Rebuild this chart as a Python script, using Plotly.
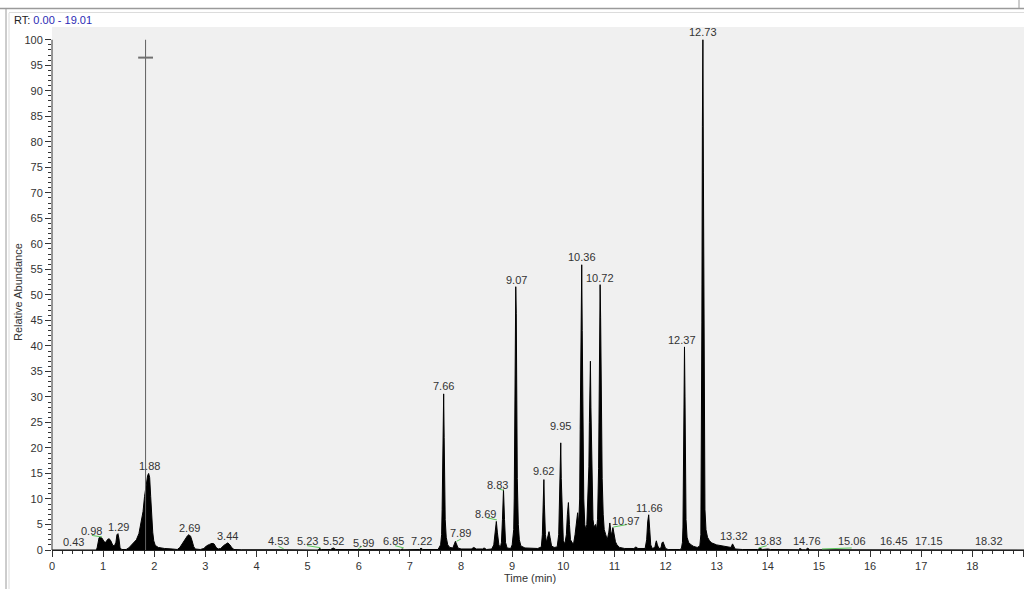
import plotly.graph_objects as go

# ---------------- data ----------------
rt_min = [
    0.00, 0.85, 0.88, 0.90, 0.92, 0.95, 0.98, 1.02, 1.05, 1.09, 1.12, 1.15, 1.19, 1.22, 1.25, 1.27,
    1.29, 1.31, 1.33, 1.36, 1.45, 1.50, 1.55, 1.60, 1.65, 1.70, 1.75, 1.78, 1.81, 1.84, 1.87, 1.89,
    1.91, 1.93, 1.95, 1.97, 1.99, 2.02, 2.08, 2.20, 2.35, 2.45, 2.50, 2.55, 2.60, 2.65, 2.68, 2.71,
    2.74, 2.77, 2.80, 2.90, 2.97, 3.02, 3.08, 3.13, 3.17, 3.21, 3.25, 3.30, 3.36, 3.41, 3.44, 3.48,
    3.52, 3.56, 3.70, 4.50, 5.20, 5.23, 5.27, 5.45, 5.50, 5.55, 6.82, 6.85, 6.88, 7.19, 7.22, 7.25,
    7.55, 7.60, 7.62, 7.63, 7.64, 7.65, 7.66, 7.67, 7.68, 7.69, 7.71, 7.74, 7.78, 7.84, 7.87, 7.89,
    7.91, 7.94, 8.00, 8.20, 8.25, 8.30, 8.42, 8.45, 8.50, 8.60, 8.64, 8.67, 8.69, 8.71, 8.74, 8.77,
    8.79, 8.81, 8.83, 8.85, 8.87, 8.90, 8.97, 9.00, 9.03, 9.04, 9.05, 9.06, 9.07, 9.08, 9.09, 9.10,
    9.12, 9.14, 9.17, 9.25, 9.50, 9.57, 9.59, 9.61, 9.62, 9.63, 9.65, 9.67, 9.70, 9.72, 9.74, 9.77,
    9.82, 9.88, 9.91, 9.93, 9.94, 9.95, 9.96, 9.98, 10.00, 10.03, 10.06, 10.08, 10.10, 10.12, 10.14, 10.17,
    10.20, 10.23, 10.26, 10.28, 10.30, 10.32, 10.33, 10.34, 10.35, 10.36, 10.37, 10.38, 10.40, 10.42, 10.44, 10.46,
    10.48, 10.50, 10.51, 10.52, 10.53, 10.54, 10.56, 10.58, 10.60, 10.63, 10.65, 10.67, 10.69, 10.70, 10.71, 10.72,
    10.73, 10.74, 10.76, 10.78, 10.80, 10.83, 10.86, 10.89, 10.91, 10.93, 10.95, 10.97, 10.99, 11.02, 11.05, 11.10,
    11.20, 11.38, 11.42, 11.46, 11.60, 11.63, 11.65, 11.67, 11.69, 11.71, 11.74, 11.79, 11.81, 11.82, 11.84, 11.87,
    11.91, 11.93, 11.95, 11.97, 12.00, 12.05, 12.28, 12.31, 12.33, 12.34, 12.35, 12.36, 12.37, 12.38, 12.39, 12.40,
    12.42, 12.45, 12.50, 12.55, 12.62, 12.67, 12.69, 12.70, 12.71, 12.72, 12.73, 12.74, 12.75, 12.76, 12.77, 12.79,
    12.82, 12.86, 12.90, 13.00, 13.10, 13.20, 13.28, 13.31, 13.33, 13.36, 13.50, 13.80, 13.85, 13.90, 14.00, 14.05,
    14.60, 14.63, 14.67, 14.74, 14.78, 14.82, 19.01,
]
abundance = [
    0.0, 0.0, 0.3, 1.8, 2.4, 2.5, 2.3, 1.6, 1.5, 2.1, 2.2, 1.8, 0.9, 0.8, 1.5, 3.0,
    3.2, 2.2, 0.5, 0.1, 0.1, 0.4, 0.9, 1.3, 2.0, 3.2, 5.5, 7.5, 10.5, 13.0, 14.6, 15.0,
    14.2, 10.5, 6.5, 3.5, 1.8, 0.9, 0.5, 0.3, 0.2, 0.1, 0.5, 1.3, 2.1, 2.8, 3.0, 2.7,
    1.8, 0.7, 0.2, 0.1, 0.3, 0.8, 1.1, 1.3, 1.2, 0.5, 0.2, 0.3, 0.9, 1.3, 1.4, 1.0,
    0.4, 0.1, 0.05, 0.05, 0.0, 0.3, 0.1, 0.1, 0.4, 0.1, 0.05, 0.2, 0.05, 0.1, 0.4, 0.1,
    0.1, 1.0, 3.0, 8.0, 19.7, 23.2, 30.6, 22.0, 12.0, 6.0, 2.5, 1.0, 0.5, 0.4, 1.2, 1.7,
    1.2, 0.4, 0.2, 0.2, 0.5, 0.2, 0.2, 0.4, 0.1, 0.2, 1.0, 3.5, 5.6, 3.5, 1.0, 0.5,
    1.5, 6.0, 11.8, 6.0, 1.5, 0.4, 0.3, 1.0, 4.0, 10.0, 29.1, 46.3, 51.6, 46.3, 28.0, 14.0,
    5.0, 2.0, 0.8, 0.4, 0.3, 0.6, 3.0, 10.0, 13.8, 9.0, 3.0, 1.5, 2.8, 3.6, 2.5, 0.8,
    0.5, 0.6, 3.0, 12.0, 18.0, 21.0, 14.0, 5.0, 1.8, 1.2, 3.0, 7.0, 9.3, 5.0, 2.0, 1.5,
    1.2, 3.0, 6.0, 7.3, 5.0, 10.0, 23.6, 35.0, 43.4, 55.9, 43.0, 25.0, 10.0, 5.0, 4.0, 5.0,
    10.0, 16.3, 25.0, 33.4, 37.0, 28.0, 12.0, 6.0, 4.5, 5.0, 4.0, 6.0, 16.0, 25.0, 45.5, 52.0,
    45.5, 30.0, 14.0, 7.0, 4.0, 3.0, 2.0, 3.5, 5.3, 3.5, 3.2, 4.4, 3.2, 1.6, 1.0, 0.5,
    0.3, 0.3, 0.6, 0.3, 0.3, 2.0, 5.5, 6.9, 4.0, 1.0, 0.3, 0.5, 1.5, 1.8, 1.0, 0.3,
    0.4, 1.4, 1.6, 1.0, 0.3, 0.1, 0.1, 0.3, 1.5, 4.5, 17.1, 33.4, 39.8, 30.0, 15.0, 6.0,
    2.5, 1.5, 1.0, 0.7, 0.5, 0.8, 3.0, 17.0, 44.5, 83.0, 100.0, 73.9, 36.9, 17.0, 8.0, 4.0,
    2.5, 1.8, 1.4, 1.0, 0.8, 0.6, 0.5, 1.2, 0.8, 0.2, 0.1, 0.1, 0.3, 0.1, 0.2, 0.1,
    0.05, 0.3, 0.05, 0.05, 0.35, 0.05, 0.0,
]

# peak labels: text, and label centre (time, abundance)
label_text = ["0.43", "0.98", "1.29", "1.88", "2.69", "3.44", "4.53", "5.23", "5.52", "5.99",
              "6.85", "7.22", "7.66", "7.89", "8.69", "8.83", "9.07", "9.62", "9.95", "10.36",
              "10.72", "10.97", "11.66", "12.37", "12.73", "13.32", "13.83", "14.76", "15.06",
              "16.45", "17.15", "18.32"]
label_x = [0.43, 0.77, 1.30, 1.90, 2.69, 3.43, 4.43, 4.99, 5.50, 6.09,
           6.68, 7.22, 7.66, 7.98, 8.48, 8.72, 9.08, 9.61, 9.94, 10.37,
           10.72, 11.23, 11.68, 12.33, 12.74, 13.33, 14.00, 14.77, 15.64,
           16.46, 17.16, 18.33]
label_y = [1.5, 3.8, 4.6, 16.5, 4.4, 2.7, 1.7, 1.7, 1.7, 1.4,
           1.7, 1.7, 32.1, 3.3, 7.1, 12.8, 53.0, 15.4, 24.4, 57.4,
           53.3, 5.7, 8.2, 41.2, 101.5, 2.7, 1.7, 1.7, 1.7,
           1.7, 1.7, 1.7]

# green leader lines from peak to shifted label (time0, ab0, time1, ab1)
leader_x0 = [0.78, 4.43, 4.99, 5.99, 6.71, 7.91, 8.51, 8.73, 10.98, 13.82, 15.06]
leader_y0 = [2.86, 0.70, 0.85, 0.25, 0.85, 1.70, 6.30, 12.0, 4.50, 0.40, 0.20]
leader_x1 = [0.98, 4.53, 5.25, 6.06, 6.88, 8.00, 8.70, 8.83, 11.25, 13.98, 15.64]
leader_y1 = [2.55, 0.25, 0.45, 0.70, 0.40, 2.15, 5.90, 11.7, 5.00, 0.85, 0.40]

cursor_rt = 1.83
cursor_top = 100
cursor_cross = 96.5
cursor_halfwidth = 0.145

x_ticks = list(range(0, 20))
y_ticks = list(range(0, 101, 5))
rt_range = [0.0, 19.01]

# ---------------- figure ----------------
FONT = "Liberation Sans, Arial, sans-serif"
TXT = "#333333"

fig = go.Figure()
fig.add_trace(go.Scatter(
    x=rt_min, y=abundance, mode="lines",
    line=dict(color="black", width=1),
    fill="tozeroy", fillcolor="black",
    hoverinfo="x+y", showlegend=False,
))

shapes = []
# cursor cross
shapes.append(dict(type="line", xref="x", yref="y", x0=cursor_rt, x1=cursor_rt, y0=0, y1=cursor_top,
                   line=dict(color="#606060", width=1)))
shapes.append(dict(type="line", xref="x", yref="y", x0=cursor_rt - cursor_halfwidth,
                   x1=cursor_rt + cursor_halfwidth, y0=cursor_cross, y1=cursor_cross,
                   line=dict(color="#707070", width=2)))
# leaders
for a, b, c, d in zip(leader_x0, leader_y0, leader_x1, leader_y1):
    shapes.append(dict(type="line", xref="x", yref="y", x0=a, y0=b, x1=c, y1=d,
                       line=dict(color="#5cc85c", width=1)))
# y axis line from 0 to 100
shapes.append(dict(type="line", xref="paper", yref="y", x0=0, x1=0, y0=0, y1=100,
                   line=dict(color="#333333", width=1)))
# window frame lines (paper coords)
L, R, T, B, W, H = 52, 0, 27, 39, 1024, 589
pw, ph = W - L - R, H - T - B
def px(x):
    return (x - L) / pw
def py(y):
    return (H - B - y) / ph
shapes += [
    dict(type="line", xref="paper", yref="paper", x0=px(0), x1=px(1024), y0=py(8.5), y1=py(8.5),
         line=dict(color="#9a9a9a", width=1.5)),
    dict(type="line", xref="paper", yref="paper", x0=px(9), x1=px(1024), y0=py(12.5), y1=py(12.5),
         line=dict(color="#dcdcdc", width=1)),
    dict(type="line", xref="paper", yref="paper", x0=px(6), x1=px(6), y0=py(9), y1=py(589),
         line=dict(color="#9a9a9a", width=1)),
    dict(type="line", xref="paper", yref="paper", x0=px(9), x1=px(9), y0=py(13), y1=py(589),
         line=dict(color="#dcdcdc", width=1)),
    dict(type="line", xref="paper", yref="paper", x0=px(1019), x1=px(1019), y0=py(0), y1=py(8.5),
         line=dict(color="#9a9a9a", width=1)),
]

annotations = []
for t, x, y in zip(label_text, label_x, label_y):
    annotations.append(dict(x=x, y=y, xref="x", yref="y", text=t, showarrow=False,
                            xanchor="center", yanchor="middle",
                            font=dict(family=FONT, size=11, color=TXT)))
annotations.append(dict(x=px(12), y=py(20), xref="paper", yref="paper",
                        text="RT: <span style='color:#2b2bb5'>0.00 - 19.01</span>",
                        showarrow=False, xanchor="left", yanchor="middle",
                        font=dict(family=FONT, size=11, color="#222222")))
annotations.append(dict(x=px(530), y=py(578), xref="paper", yref="paper", text="Time (min)",
                        showarrow=False, xanchor="center", yanchor="middle",
                        font=dict(family=FONT, size=11, color=TXT)))
annotations.append(dict(x=px(18), y=py(292), xref="paper", yref="paper", text="Relative Abundance",
                        showarrow=False, xanchor="center", yanchor="middle", textangle=-90,
                        font=dict(family=FONT, size=11, color=TXT)))

fig.update_layout(
    width=W, height=H,
    margin=dict(l=L, r=R, t=T, b=B, pad=0),
    paper_bgcolor="white", plot_bgcolor="#f0f0f0",
    shapes=shapes, annotations=annotations,
    font=dict(family=FONT, size=11, color=TXT),
    showlegend=False,
)
fig.update_xaxes(
    range=rt_range, tickmode="array", tickvals=x_ticks, ticktext=[str(v) for v in x_ticks],
    ticks="outside", ticklen=6, tickwidth=1, tickcolor="#333333",
    minor=dict(dtick=0.2, tick0=0, ticks="outside", ticklen=3, tickcolor="#333333", showgrid=False),
    showline=True, linecolor="#222222", linewidth=1,
    showgrid=False, zeroline=False, tickfont=dict(family=FONT, size=11, color=TXT),
)
fig.update_yaxes(
    range=[0, 102.5], tickmode="array", tickvals=y_ticks, ticktext=[str(v) for v in y_ticks],
    ticks="outside", ticklen=6, tickwidth=1, tickcolor="#333333",
    minor=dict(tickmode="array", tickvals=list(range(0, 101)), ticks="outside", ticklen=3,
               tickcolor="#333333", showgrid=False),
    showline=False, showgrid=False, zeroline=False,
    tickfont=dict(family=FONT, size=11, color=TXT),
)

fig.write_html("out.html", config={"displayModeBar": False},
               post_script="document.body.style.margin='0';")
